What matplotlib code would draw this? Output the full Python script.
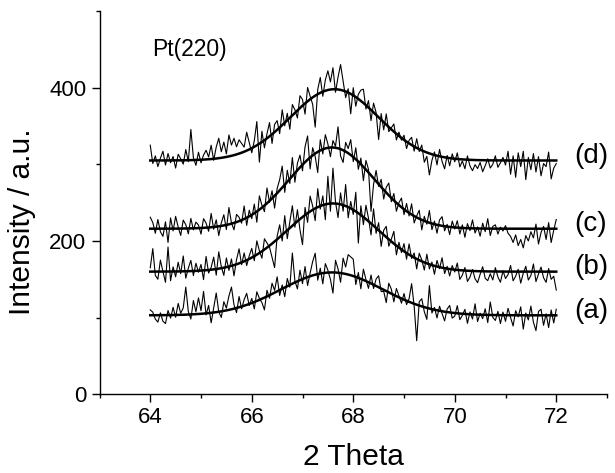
import numpy as np
import matplotlib
matplotlib.use('Agg')
import matplotlib.pyplot as plt
from matplotlib.ticker import MultipleLocator

plt.rcParams['font.family'] = ['Liberation Sans', 'DejaVu Sans']

# scan: 64 -> 72 deg, step 0.05
two_theta = np.linspace(64, 72, 161)
labels = ['(a)', '(b)', '(c)', '(d)']

# gaussian fit parameters
baseline = [103, 160, 216, 305]
height = [56, 89, 106, 93]
center = [67.58, 67.6, 67.58, 67.63]
sigma = [1.0, 0.9, 0.84, 0.87]

# deviation of the measured counts from the fitted curve (estimated per point)
resid_a = [7, 4, -5, -9, 3, -8, -11, 6, -4, 10, -3, 15, 2, 9, 36, 4, -6, 18, 3, 21,
           4, 29, -2, 10, -13, 6, 25, 0, -8, 12, 3, 18, 29, 5, -6, 14, -3, 8, 15, -2,
           6, -9, 12, 2, -5, -16, 8, -4, 14, 3, 19, -7, 5, -12, 10, -3, 40, 2, -10, 13,
           -6, 15, -11, 4, 18, 28, -8, 7, -14, 12, 3, -9, -27, 16, 5, -12, 20, 9, 26, 24,
           22, -10, 7, -13, 14, 2, -8, 11, -5, 9, 15, -4, -2, -15, 12, 6, -9, 10, 2, -6,
           8, -5, 4, 25, -3, -47, 5, 10, -6, -15, 30, -5, 3, -10, 6, -3, -12, 4, 9, -7,
           -4, 10, -8, -2, 6, -12, 3, -6, 14, -9, 2, -5, 8, -10, 17, -3, -7, 5, -11, 4,
           -8, 9, -3, -14, 6, -2, 11, -18, 3, -6, 12, -9, -20, 5, 8, -13, 2, -16, 7, -10,
           8]
resid_b = [5, 30, -5, -10, 15, 0, -14, 32, -12, 6, -7, 12, -3, 20, -9, 4, 14, -6, 10, -2,
           8, -12, 18, -4, 3, 16, -8, 22, 2, -10, 12, -5, 9, -14, 6, 19, -3, 11, -7, 4,
           12, -6, 18, 3, -9, 14, 6, -2, -18, -34, 4, 16, -8, 22, -11, 8, 26, -5, 15, -14,
           -36, 10, -12, 20, 5, -16, 24, -4, 12, -20, 36, -10, 46, 2, -18, 15, -8, 28, -14, 9,
           -6, 25, -39, 12, -10, 18, 4, -15, 22, -7, 10, -18, 6, 14, -9, 3, 16, -12, 7, -4,
           10, -8, 14, -3, 6, -13, 9, 2, -10, 12, -6, 4, -11, 8, -2, 13, -7, 3, -9, 5,
           -3, 9, -12, -6, 4, -14, -8, 2, -10, -15, -4, 6, -9, -12, -3, -11, 5, -7, -14, 1,
           -9, -4, 8, -12, -6, 3, -15, -2, 7, -11, -5, 10, -13, -3, 6, -8, -14, 4, -10, -6,
           -24]
resid_c = [15, 8, -6, 12, -4, -10, 9, -18, 14, -3, 16, 2, -9, 11, 5, -7, 13, -2, 8, 4,
           -8, 12, 6, -5, 18, -3, 9, -12, 4, 14, -6, 22, 1, -9, 10, 5, -4, 17, -10, 8,
           -5, 12, -14, 18, 3, -8, 20, -2, 10, -16, 6, 14, 28, -10, 15, -6, 24, -12, 9, 16,
           -8, 20, 31, -15, 10, -4, -27, 14, -6, 18, 5, -12, 9, 2, 28, -9, -16, 12, 6, 20,
           -6, 15, -10, 8, -18, 12, 4, -47, -8, 14, -3, 10, -12, 7, 16, -5, 9, -11, 3, 12,
           -7, 10, -4, 14, -9, 2, 11, -13, 6, -3, 16, -8, 4, -11, 7, 12, -6, 3, -10, 8,
           -2, 9, -8, 4, -12, 6, -3, 11, -6, 2, -10, 7, -4, 13, -9, 3, 5, -7, 2, -3,
           4, -6, -10, -18, -8, -22, -14, -25, -9, -16, -4, -12, 6, -20, -5, 3, -14, 8, -18, -2,
           12]
resid_d = [20, -4, 6, -8, 3, 12, -6, 9, -3, 5, -10, 8, 2, -5, 14, -2, 40, 3, -7, 10,
           -4, 6, 12, 3, 18, -2, 15, 26, 8, 20, 4, 28, 14, 22, 10, 18, 12, 6, 24, 9,
           -6, 8, 31, -24, 14, -10, 6, 18, -12, 10, 12, -8, 20, -4, 9, -15, 14, 4, -10, 16,
           8, -14, 18, 4, -9, -41, 6, 20, -6, 14, 25, 10, 28, -4, 16, 33, 12, -8, 5, -26,
           10, -12, 6, 14, 18, -5, 9, -14, 12, 3, -29, 8, -10, 14, -6, 2, 10, -8, 5, -3,
           6, -9, 4, 10, -6, 12, -3, 7, -14, -5, -28, -8, 4, -12, 9, -6, -15, 3, -10, 6,
           -4, 8, -10, -2, -12, 5, -8, -14, -6, -11, -3, -15, -7, 2, -10, -5, 6, -9, -3, 4,
           -6, 12, -18, 6, -22, 10, -8, 12, -25, 4, -12, 9, -15, 5, -20, -4, -8, 11, -24, -10,
           -4]
residuals = [resid_a, resid_b, resid_c, resid_d]


def gauss(x, b, h, c, s):
    return b + h * np.exp(-(x - c) ** 2 / (2 * s ** 2))


fig = plt.figure(figsize=(6.15, 4.73), dpi=100)
ax = fig.add_axes([0.1618, 0.1664, 0.8252, 0.8103])

x_fit = np.linspace(64, 72, 400)
for i in range(4):
    fit_raw = gauss(two_theta, baseline[i], height[i], center[i], sigma[i])
    ax.plot(two_theta, fit_raw + np.array(residuals[i]), color='black', lw=0.8)
    ax.plot(x_fit, gauss(x_fit, baseline[i], height[i], center[i], sigma[i]),
            color='black', lw=1.8)
    ax.text(72.35, baseline[i] + 6, labels[i], fontsize=20, ha='left', va='center')

ax.text(64.03, 441, 'Pt(220)', fontsize=16.5, ha='left', va='baseline')

ax.set_xlim(63, 73)
ax.set_ylim(0, 500)
ax.xaxis.set_major_locator(MultipleLocator(2))
ax.xaxis.set_minor_locator(MultipleLocator(1))
ax.yaxis.set_major_locator(MultipleLocator(200))
ax.yaxis.set_minor_locator(MultipleLocator(100))
ax.tick_params(which='major', direction='out', length=6, width=1, labelsize=16, pad=3.5)
ax.tick_params(which='minor', direction='out', length=3, width=1)
ax.spines['top'].set_visible(False)
ax.spines['right'].set_visible(False)
for sp in ['left', 'bottom']:
    ax.spines[sp].set_linewidth(1)

ax.set_xlabel('2 Theta', fontsize=21.5, va='baseline')
ax.xaxis.set_label_coords(0.5, -0.185)
ax.set_ylabel('Intensity / a.u.', fontsize=21.5, va='center')
ax.yaxis.set_label_coords(-0.153, 0.45)

fig.savefig('out.png', dpi=100)
